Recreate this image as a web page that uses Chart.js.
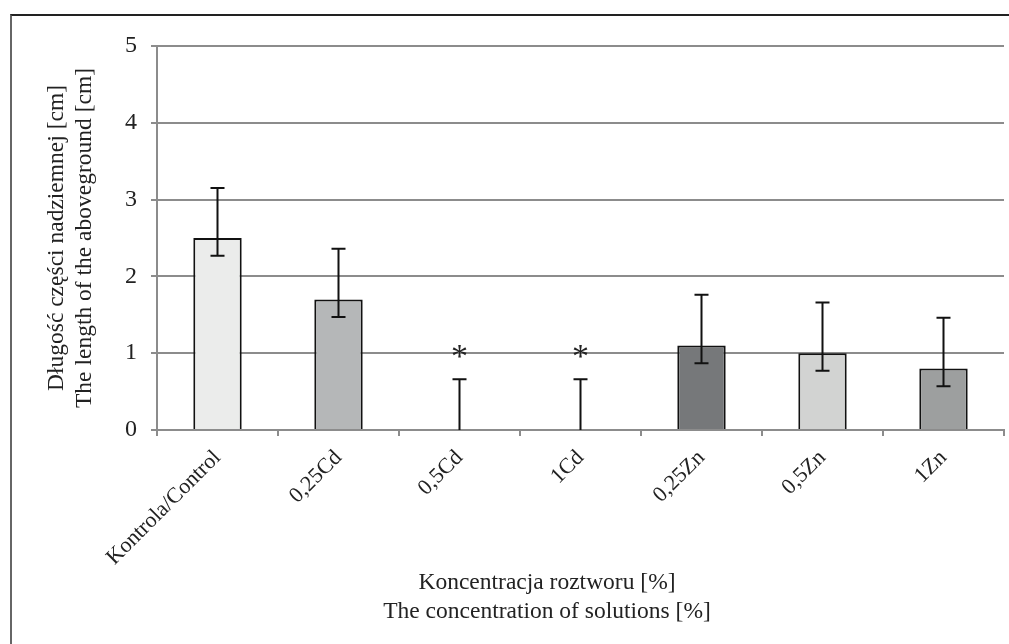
<!DOCTYPE html>
<html lang="pl">
<head>
<meta charset="UTF-8">
<title>Długość części nadziemnej</title>
<script src="https://cdn.jsdelivr.net/npm/chart.js"></script>
<style>
  body { margin: 0; background: #fff; }
  #wrap { position: relative; width: 1009px; height: 644px; overflow: hidden; }
  #frame { position: absolute; left: 10px; top: 14px; width: 1200px; height: 800px;
           border-left: 2px solid #666; border-top: 2px solid #222; }
  canvas { position: absolute; left: 0; top: 0; }
</style>
</head>
<body>
<div id="wrap">
  <div id="frame"></div>
  <canvas id="chart" width="1009" height="644"></canvas>
</div>
<script>
// values
const categories = ['Kontrola/Control', '0,25Cd', '0,5Cd', '1Cd', '0,25Zn', '0,5Zn', '1Zn'];
const lengths = [2.5, 1.7, 0, 0, 1.1, 1.0, 0.8];
const errPlus = [0.65, 0.66, 0.66, 0.66, 0.66, 0.66, 0.66];
const errMinus = [0.23, 0.23, 0, 0, 0.23, 0.23, 0.23];
const stars = ['', '', '*', '*', '', '', ''];
const starLevel = 1.03;
const barColors = ['#ebeceb', '#b5b7b8', '#ffffff', '#ffffff', '#76787a', '#d2d3d2', '#9d9f9f'];
const yTicks = [0, 1, 2, 3, 4, 5];
const yTitle = ['Długość części nadziemnej [cm]', 'The length of the aboveground [cm]'];
const xTitle = ['Koncentracja roztworu [%]', 'The concentration of solutions [%]'];

const FONT = '"Liberation Serif", "Times New Roman", serif';
const TEXT = '#222';
const GRID = '#8c8c8c';

// error bars + significance marks
const extras = {
  id: 'extras',
  afterDatasetsDraw(chart) {
    const ctx = chart.ctx;
    const y = chart.scales.y;
    const bars = chart.getDatasetMeta(0).data;
    ctx.save();
    ctx.strokeStyle = '#111';
    ctx.lineWidth = 2;
    bars.forEach((bar, i) => {
      const top = y.getPixelForValue(lengths[i] + errPlus[i]);
      const bot = y.getPixelForValue(lengths[i] - errMinus[i]);
      ctx.beginPath();
      ctx.moveTo(bar.x, top);
      ctx.lineTo(bar.x, bot);
      ctx.moveTo(bar.x - 7, top);
      ctx.lineTo(bar.x + 7, top);
      if (errMinus[i] > 0) {
        ctx.moveTo(bar.x - 7, bot);
        ctx.lineTo(bar.x + 7, bot);
      }
      ctx.stroke();
      if (stars[i]) {
        ctx.fillStyle = '#222';
        ctx.font = '34px ' + FONT;
        ctx.textAlign = 'center';
        ctx.textBaseline = 'alphabetic';
        ctx.fillText(stars[i], bar.x, y.getPixelForValue(starLevel) + 16);
      }
    });
    ctx.restore();
  },
  afterDraw(chart) {
    // x axis title, two lines
    const ctx = chart.ctx;
    ctx.save();
    ctx.fillStyle = TEXT;
    ctx.font = '23.5px ' + FONT;
    ctx.textAlign = 'center';
    ctx.textBaseline = 'middle';
    xTitle.forEach((line, i) => ctx.fillText(line, 547, 583 + i * 29));
    ctx.restore();
  }
};

new Chart(document.getElementById('chart'), {
  type: 'bar',
  data: {
    labels: categories,
    datasets: [{
      data: lengths,
      backgroundColor: barColors,
      borderColor: '#111',
      borderWidth: 2,
      barPercentage: 0.4,
      categoryPercentage: 1
    }]
  },
  options: {
    responsive: false,
    animation: false,
    layout: { padding: { left: 12, right: 5, top: 46, bottom: 0 } },
    plugins: { legend: { display: false }, tooltip: { enabled: false } },
    scales: {
      x: {
        z: 1,
        grid: { drawOnChartArea: false, drawTicks: true, tickLength: 6, color: GRID, lineWidth: 2 },
        border: { color: GRID, width: 2 },
        ticks: {
          autoSkip: false, minRotation: 45, maxRotation: 45, padding: 9,
          color: TEXT, font: { family: FONT, size: 22 }
        },
        afterFit(scale) { scale.height = 214; }
      },
      y: {
        min: 0, max: 5,
        afterBuildTicks(scale) { scale.ticks = yTicks.map(v => ({ value: v })); },
        grid: { color: GRID, lineWidth: 2, tickLength: 6 },
        border: { color: GRID, width: 2 },
        ticks: { padding: 14, color: TEXT, font: { family: FONT, size: 24 } },
        title: {
          display: true, text: yTitle, color: TEXT,
          font: { family: FONT, size: 23.5, lineHeight: 1.2 },
          padding: { top: 31, bottom: 0 }
        },
        afterFit(scale) { scale.width = 145; }
      }
    }
  },
  plugins: [extras]
});
</script>
</body>
</html>
